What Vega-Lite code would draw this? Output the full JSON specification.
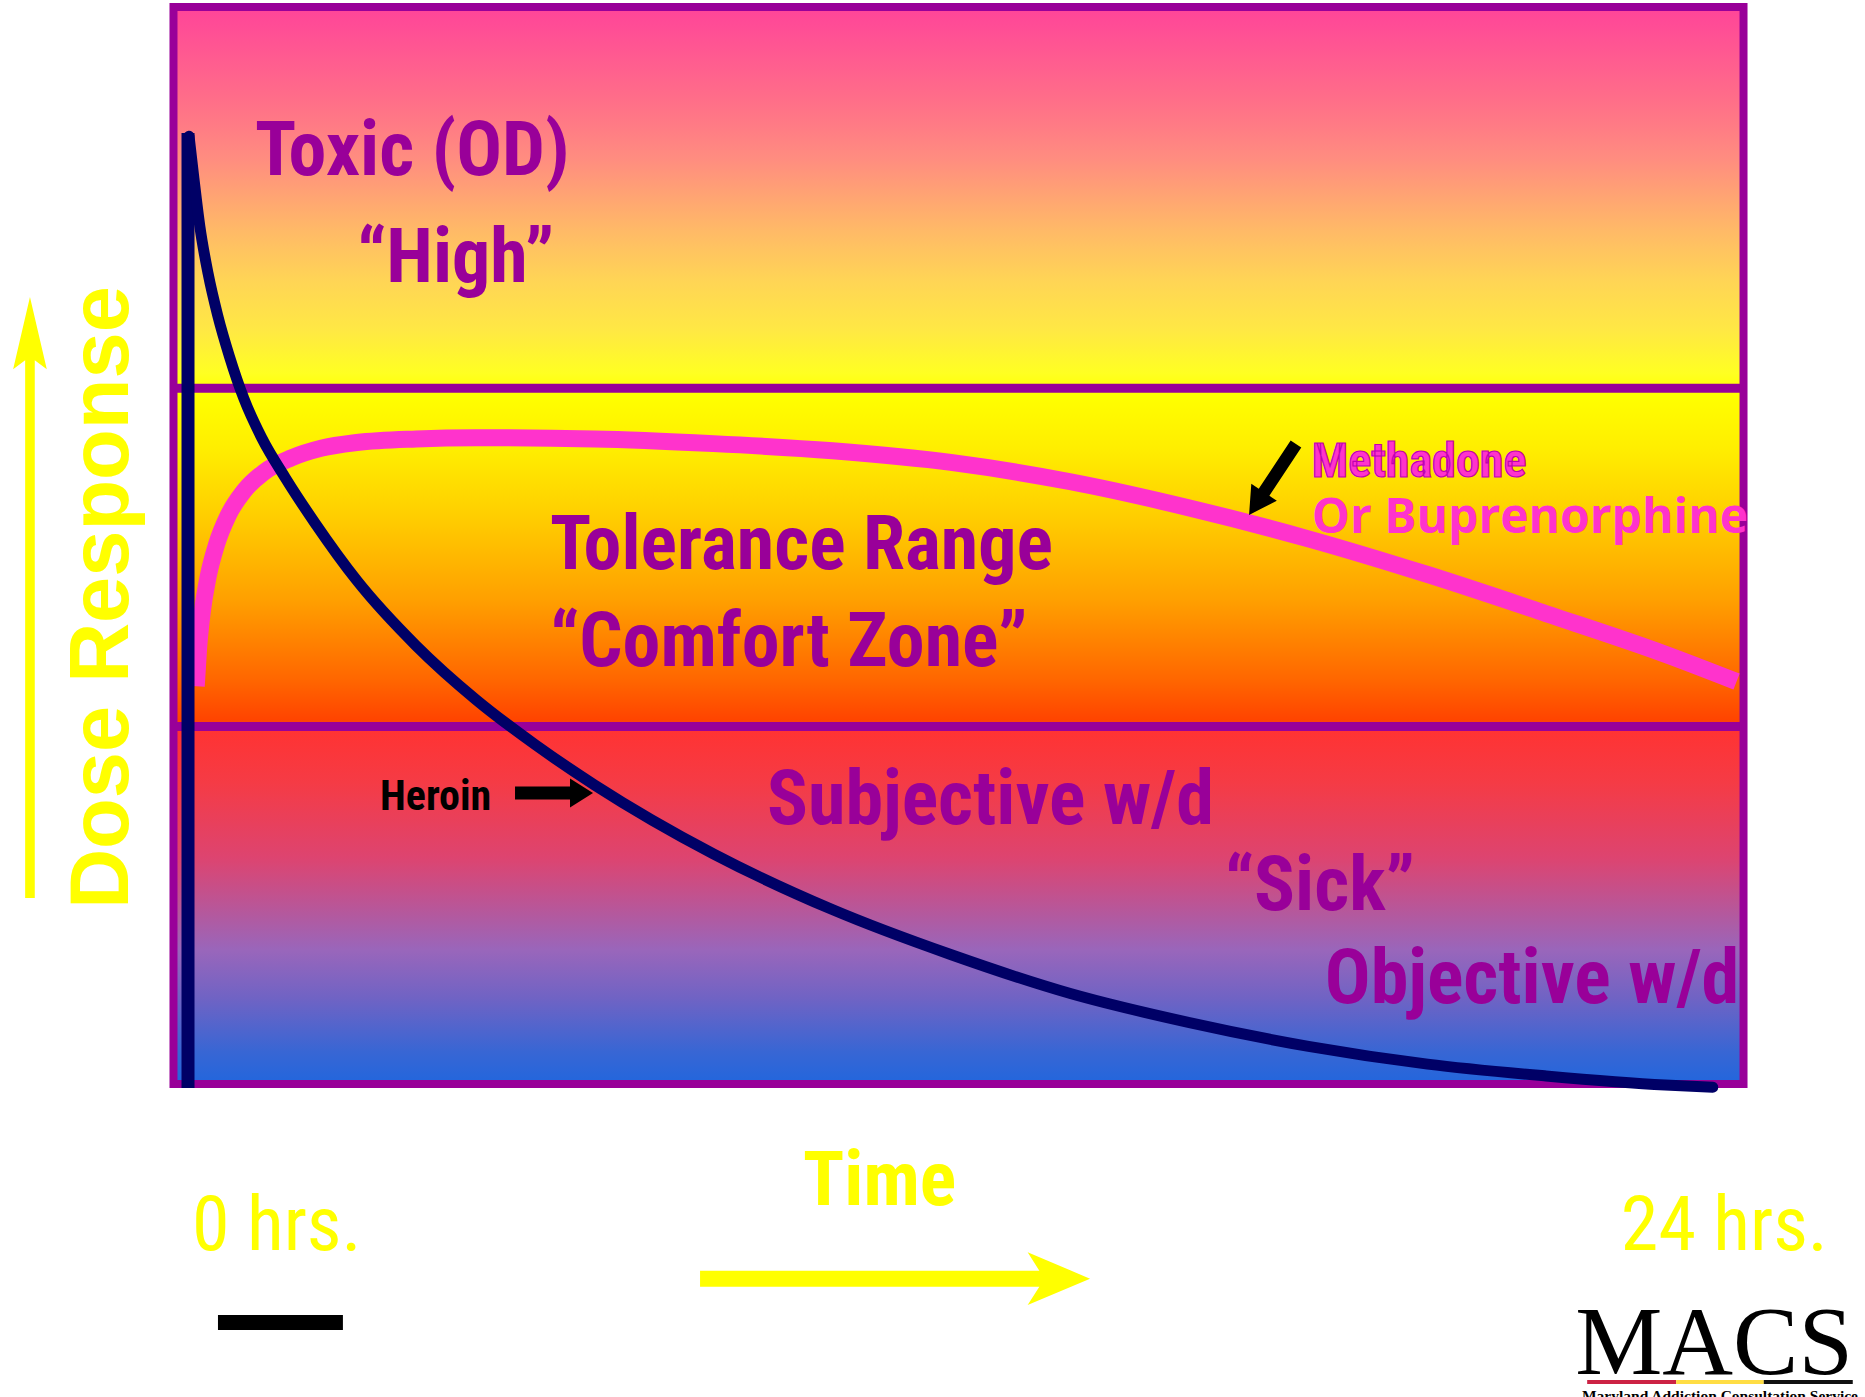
{
  "$schema": "https://vega.github.io/schema/vega-lite/v6.json",
  "width": 1865,
  "height": 1397,
  "autosize": "none",
  "padding": 0,
  "background": "#ffffff",
  "config": {"view": {"stroke": null}},
  "datasets": {
    "zones": [{"t": 0, "t2": 24, "r": 0, "r2": 100}],
    "dividers": [{"t": 0, "t2": 24, "r": 64.6}, {"t": 0, "t2": 24, "r": 33.2}],
    "methadone": [
      {"t": 0.348, "r": 36.93}, {"t": 0.384, "r": 40.46}, {"t": 0.439, "r": 43.78}, {"t": 0.529, "r": 47.08},
      {"t": 0.657, "r": 50.07}, {"t": 0.839, "r": 52.83}, {"t": 1.075, "r": 55.04}, {"t": 1.383, "r": 56.81},
      {"t": 1.802, "r": 58.13}, {"t": 2.256, "r": 59.02}, {"t": 2.802, "r": 59.56}, {"t": 3.711, "r": 59.9},
      {"t": 4.621, "r": 60.01}, {"t": 6.439, "r": 59.9}, {"t": 8.257, "r": 59.46}, {"t": 10.075, "r": 58.79},
      {"t": 11.91, "r": 57.69}, {"t": 13.712, "r": 55.92}, {"t": 15.53, "r": 53.49}, {"t": 17.348, "r": 50.62},
      {"t": 19.166, "r": 47.31}, {"t": 20.984, "r": 43.67}, {"t": 22.803, "r": 39.91}, {"t": 23.894, "r": 37.37}
    ],
    "heroin": [
      {"t": 0.238, "r": 88.0}, {"t": 0.312, "r": 84.09}, {"t": 0.402, "r": 79.67}, {"t": 0.529, "r": 75.25},
      {"t": 0.675, "r": 71.38}, {"t": 0.857, "r": 67.52}, {"t": 1.075, "r": 63.66}, {"t": 1.348, "r": 60.01},
      {"t": 1.712, "r": 56.26}, {"t": 2.166, "r": 52.06}, {"t": 2.802, "r": 46.76}, {"t": 3.711, "r": 40.69},
      {"t": 4.621, "r": 35.71}, {"t": 5.529, "r": 31.51}, {"t": 6.439, "r": 27.76}, {"t": 8.26, "r": 21.35},
      {"t": 10.07, "r": 16.2}, {"t": 11.89, "r": 12.0}, {"t": 13.71, "r": 8.4}, {"t": 15.53, "r": 5.7},
      {"t": 17.35, "r": 3.5}, {"t": 19.17, "r": 1.85}, {"t": 20.98, "r": 0.75}, {"t": 22.8, "r": -0.1},
      {"t": 23.53, "r": -0.3}
    ],
    "heroinPeak": [{"t": 0.222, "r": -0.37, "r2": 88.3}],
    "zoneLabels": [
      {"label": "Toxic (OD)", "t": 1.246, "r": 84.4},
      {"label": "“High”", "t": 2.805, "r": 74.47},
      {"label": "Tolerance Range", "t": 5.755, "r": 47.82},
      {"label": "“Comfort Zone”", "t": 5.755, "r": 38.81},
      {"label": "Subjective w/d", "t": 9.073, "r": 24.14},
      {"label": "“Sick”", "t": 16.07, "r": 16.16},
      {"label": "Objective w/d", "t": 17.6, "r": 7.52}
    ],
    "heroinLabel": [{"label": "Heroin", "t": 3.157, "r": 25.44}],
    "methadoneLabel": [{"label": "Methadone", "t": 17.4, "r": 56.36}],
    "buprenorphineLabel": [{"label": "Or Buprenorphine", "t": 17.4, "r": 51.16}],
    "heroinArrow": [{"t": 5.817, "r": 27.02}],
    "methadoneArrow": [{"t": 16.8, "r": 56.13}],
    "doseArrow": [{"t": -2.194, "r": 45.17}],
    "timeArrow": [{"t": 11.03, "r": -18.07}],
    "doseTitle": [{"label": "Dose Response", "t": -0.696, "r": 45.17}],
    "timeTitle": [{"label": "Time", "t": 9.623, "r": -11.23}],
    "startLabel": [{"label": "0 hrs.", "t": 0.283, "r": -15.41}],
    "endLabel": [{"label": "24 hrs.", "t": 25.29, "r": -15.41}],
    "bar": [{"t": 0.68, "t2": 2.59, "r": -21.45, "r2": -22.84}],
    "logo": [{"label": "MACS", "t": 23.55, "r": -26.93}],
    "logoLine": [
      {"part": "left", "t": 21.61, "t2": 22.97, "r": -27.67},
      {"part": "middle", "t": 22.97, "t2": 24.31, "r": -27.67},
      {"part": "right", "t": 24.31, "t2": 25.67, "r": -27.67}
    ],
    "logoText": [{"label": "Maryland Addiction Consultation Service", "t": 23.64, "r": -29.43}]
  },
  "encoding": {
    "x": {"field": "t", "type": "quantitative", "axis": null, "scale": {"domain": [-2.652, 25.857], "nice": false, "zero": false}},
    "y": {"field": "r", "type": "quantitative", "axis": null, "scale": {"domain": [-29.06, 100.65], "nice": false, "zero": false}}
  },
  "layer": [
    {
      "data": {"name": "zones"},
      "mark": {"type": "rect", "fill": {"gradient": "linear", "x1": 0, "y1": 0, "x2": 0, "y2": 1, "stops": [
        {"offset": 0.0, "color": "#ff4499"},
        {"offset": 0.09, "color": "#ff7088"},
        {"offset": 0.14, "color": "#ff8c80"},
        {"offset": 0.21, "color": "#ffbb66"},
        {"offset": 0.255, "color": "#ffd555"},
        {"offset": 0.3, "color": "#ffe844"},
        {"offset": 0.34, "color": "#ffff22"},
        {"offset": 0.36, "color": "#ffff00"},
        {"offset": 0.41, "color": "#ffee00"},
        {"offset": 0.476, "color": "#ffcc00"},
        {"offset": 0.55, "color": "#ffa000"},
        {"offset": 0.625, "color": "#ff6600"},
        {"offset": 0.662, "color": "#ff4400"},
        {"offset": 0.672, "color": "#ff3333"},
        {"offset": 0.72, "color": "#f53b45"},
        {"offset": 0.79, "color": "#dd4470"},
        {"offset": 0.876, "color": "#9966bb"},
        {"offset": 0.92, "color": "#7063c4"},
        {"offset": 0.97, "color": "#3866d4"},
        {"offset": 1.0, "color": "#2266dd"}
      ]}},
      "encoding": {"x2": {"field": "t2"}, "y2": {"field": "r2"}}
    },
    {
      "data": {"name": "dividers"},
      "mark": {"type": "rule", "color": "#990099", "strokeWidth": 9},
      "encoding": {"x2": {"field": "t2"}}
    },
    {
      "data": {"name": "zones"},
      "mark": {"type": "rect", "fill": null, "fillOpacity": 0, "stroke": "#990099", "strokeWidth": 8},
      "encoding": {"x2": {"field": "t2"}, "y2": {"field": "r2"}}
    },
    {
      "data": {"name": "methadone"},
      "mark": {"type": "line", "color": "#ff33cc", "strokeWidth": 17, "interpolate": "monotone", "strokeCap": "butt"}
    },
    {
      "data": {"name": "heroinPeak"},
      "mark": {"type": "rule", "color": "#000066", "strokeWidth": 13, "strokeCap": "butt"},
      "encoding": {"y2": {"field": "r2"}}
    },
    {
      "data": {"name": "heroin"},
      "mark": {"type": "line", "color": "#000066", "strokeWidth": 11, "interpolate": "monotone", "strokeCap": "round"}
    },
    {
      "data": {"name": "zoneLabels"},
      "mark": {"type": "text", "align": "left", "baseline": "alphabetic", "font": "Roboto Condensed, Liberation Sans, sans-serif", "fontWeight": "bold", "fontSize": 76, "fill": "#990099"},
      "encoding": {"text": {"field": "label"}}
    },
    {
      "data": {"name": "heroinLabel"},
      "mark": {"type": "text", "align": "left", "baseline": "alphabetic", "font": "Roboto Condensed, Liberation Sans, sans-serif", "fontWeight": "bold", "fontSize": 42, "fill": "#000000"},
      "encoding": {"text": {"field": "label"}}
    },
    {
      "data": {"name": "methadoneLabel"},
      "mark": {"type": "text", "align": "left", "baseline": "alphabetic", "font": "Roboto Condensed, Liberation Sans, sans-serif", "fontWeight": "bold", "fontSize": 48, "fill": "#ff33cc", "stroke": "#c000b0", "strokeWidth": 1.2},
      "encoding": {"text": {"field": "label"}}
    },
    {
      "data": {"name": "buprenorphineLabel"},
      "mark": {"type": "text", "align": "left", "baseline": "alphabetic", "font": "Open Sans, DejaVu Sans, sans-serif", "fontWeight": "bold", "fontSize": 48, "fill": "#ff33cc"},
      "encoding": {"text": {"field": "label"}}
    },
    {
      "data": {"name": "heroinArrow"},
      "mark": {"type": "point", "filled": true, "opacity": 1, "color": "#000000", "strokeWidth": 0, "size": 6084,
        "shape": "M-1,-0.167L0.41,-0.167L0.41,-0.372L1,0L0.41,0.372L0.41,0.167L-1,0.167Z"}
    },
    {
      "data": {"name": "methadoneArrow"},
      "mark": {"type": "point", "filled": true, "opacity": 1, "color": "#000000", "strokeWidth": 0, "size": 7225, "angle": 123.5,
        "shape": "M-1,-0.15L0.36,-0.15L0.36,-0.36L1,0L0.36,0.36L0.36,0.15L-1,0.15Z"}
    },
    {
      "data": {"name": "doseArrow"},
      "mark": {"type": "point", "filled": true, "opacity": 1, "color": "#ffff00", "strokeWidth": 0, "size": 361201, "angle": 270,
        "shape": "M-1,-0.016L0.79,-0.016L0.76,-0.056L1,0L0.76,0.056L0.79,0.016L-1,0.016Z"}
    },
    {
      "data": {"name": "timeArrow"},
      "mark": {"type": "point", "filled": true, "opacity": 1, "color": "#ffff00", "strokeWidth": 0, "size": 152100,
        "shape": "M-1,-0.041L0.74,-0.041L0.68,-0.135L1,0L0.68,0.135L0.74,0.041L-1,0.041Z"}
    },
    {
      "data": {"name": "doseTitle"},
      "mark": {"type": "text", "align": "center", "baseline": "alphabetic", "angle": 270, "font": "Liberation Sans, Arial, sans-serif", "fontWeight": "bold", "fontSize": 83, "fill": "#ffff00"},
      "encoding": {"text": {"field": "label"}}
    },
    {
      "data": {"name": "timeTitle"},
      "mark": {"type": "text", "align": "left", "baseline": "alphabetic", "font": "Roboto Condensed, Liberation Sans, sans-serif", "fontWeight": "bold", "fontSize": 76, "fill": "#ffff00"},
      "encoding": {"text": {"field": "label"}}
    },
    {
      "data": {"name": "startLabel"},
      "mark": {"type": "text", "align": "left", "baseline": "alphabetic", "font": "Roboto Condensed, Liberation Sans, sans-serif", "fontSize": 76, "fill": "#ffff00"},
      "encoding": {"text": {"field": "label"}}
    },
    {
      "data": {"name": "endLabel"},
      "mark": {"type": "text", "align": "right", "baseline": "alphabetic", "font": "Roboto Condensed, Liberation Sans, sans-serif", "fontSize": 76, "fill": "#ffff00"},
      "encoding": {"text": {"field": "label"}}
    },
    {
      "data": {"name": "bar"},
      "mark": {"type": "rect", "color": "#000000"},
      "encoding": {"x2": {"field": "t2"}, "y2": {"field": "r2"}}
    },
    {
      "data": {"name": "logo"},
      "mark": {"type": "text", "align": "center", "baseline": "alphabetic", "font": "Liberation Serif, Times New Roman, serif", "fontSize": 98, "fill": "#000000"},
      "encoding": {"text": {"field": "label"}}
    },
    {
      "data": {"name": "logoLine"},
      "mark": {"type": "rule", "strokeWidth": 4},
      "encoding": {
        "x2": {"field": "t2"},
        "color": {"field": "part", "type": "nominal", "legend": null, "scale": {"domain": ["left", "middle", "right"], "range": ["#cc2244", "#ffdd44", "#111111"]}}
      }
    },
    {
      "data": {"name": "logoText"},
      "mark": {"type": "text", "align": "center", "baseline": "alphabetic", "font": "Liberation Serif, Times New Roman, serif", "fontWeight": "bold", "fontSize": 15.5, "fill": "#000000"},
      "encoding": {"text": {"field": "label"}}
    }
  ]
}
